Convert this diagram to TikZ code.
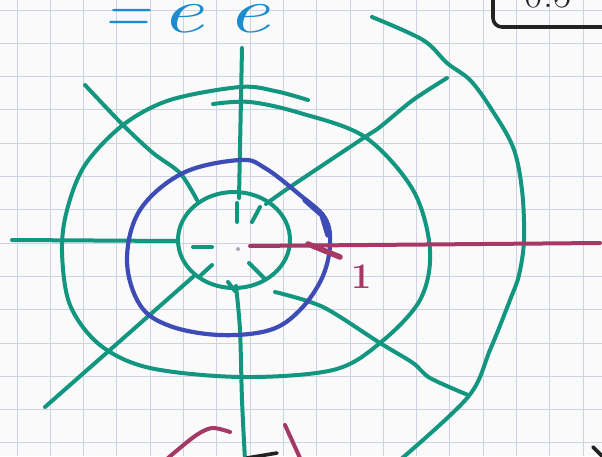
\documentclass[tikz,border=0pt]{standalone}
\usepackage{graphicx}
\usetikzlibrary{positioning}
\definecolor{paper}{RGB}{250,250,251}
\definecolor{gridblue}{RGB}{206,211,226}
\definecolor{penteal}{RGB}{18,150,128}
\definecolor{penblue}{RGB}{62,76,182}
\definecolor{penmag}{RGB}{166,56,102}
\definecolor{pensky}{RGB}{28,140,206}
\definecolor{penink}{RGB}{34,34,34}

\begin{document}
\begin{tikzpicture}[x=1pt,y=-1pt,
  gridline/.style={draw=gridblue,line width=0.9pt},
  tealpen/.style={draw=penteal,line width=4pt,line cap=round,line join=round},
  bluepen/.style={draw=penblue,line width=4.2pt,line cap=round,line join=round},
  magpen/.style={draw=penmag,line width=4pt,line cap=round,line join=round},
  inkpen/.style={draw=penink,line width=3.6pt,line cap=round,line join=round}]
\clip (0,0) rectangle (602,456);
\fill[paper] (0,0) rectangle (602,456);
% squared paper
\foreach \gx in {0,...,17} \draw[gridline] ({17+33.3*\gx},0) -- ++(0,456);
\foreach \gy in {0,...,13} \draw[gridline] (0,{10+33.3*\gy}) -- ++(602,0);

% heading, cut by the top edge
\node[text=pensky,anchor=base west,inner sep=0pt,font=\fontsize{64}{64}\selectfont\itshape] (ee) at (102,32) {=\,\scalebox{1.5}[1]{e}\hspace{0.35em}\scalebox{1.5}[1]{e}};
\draw[inkpen,rounded corners=9pt] (493,-40) rectangle (660,27);
\node[text=penink,anchor=base,inner sep=0pt,font=\fontsize{40}{40}\selectfont] (half) at (548,7) {0.5};

% inner circle and middle ring
\draw[tealpen] (234,240) ellipse (56 and 48);
\draw[tealpen] plot[smooth,tension=0.55] coordinates {(213,104) (250,102) (300,113) (365,137) (413,190) (430,250) (420,300) (380,343) (333,370) (242,377) (150,368) (100,345) (70,305) (62,252) (67,210) (85,165) (123,125) (170,100) (240,87) (275,91) (308,100)};
% outer arc
\draw[tealpen] plot[smooth,tension=0.55] coordinates {(372,17) (423,40) (447,63) (470,80) (490,107) (513,147) (522,190) (524,240) (519,275) (510,300) (490,350) (468,397) (400,460)};

% spokes
\draw[tealpen] (242,48) -- (239,198);
\draw[tealpen] plot[smooth] coordinates {(447,78) (413,100) (380,127) (365,137) (290,187) (266,204)};
\draw[tealpen] plot[smooth] coordinates {(275,292) (323,307) (380,343) (413,363) (430,378) (468,395)};
\draw[tealpen] plot[smooth] coordinates {(236,286) (240,330) (242,400) (245,460)};
\draw[tealpen] (45,407) -- (194,276);
\draw[tealpen] (12,240) -- (178,241);
\draw[tealpen] plot[smooth] coordinates {(85,85) (123,125) (153,153) (180,173) (197,200)};
% ticks inside the inner circle
\draw[tealpen] (237,203) -- (237,222);
\draw[tealpen] (260,207) -- (252,222);
\draw[tealpen] (193,247) -- (212,247);
\draw[tealpen] (212,265) -- (201,275);
\draw[tealpen] (228,282) -- (235,291);
\draw[tealpen] (249,263) -- (264,278);
\fill[gridblue!80!black] (238,249) circle (2);

% blue loop
\draw[bluepen] plot[smooth cycle,tension=0.6] coordinates {(127,260) (140,210) (183,173) (240,160) (265,168) (300,195) (325,218) (330,245) (322,278) (300,310) (270,330) (220,335) (170,326) (140,305)};
\draw[bluepen,line width=5.5pt] (305,200) -- (322,215) -- (328,235);

% magenta ray and mark
\draw[magpen] (250,246) -- (600,243);
\draw[magpen,line width=5.5pt] (308,244) -- (340,257);
\node[text=penmag,inner sep=0pt,font=\fontsize{36}{36}\selectfont\bfseries] (one) at (362,277) {1};

% strokes cut by the bottom edge
\draw[magpen] plot[smooth] coordinates {(168,458) (195,436) (212,428) (230,432)};
\draw[magpen] (285,425) -- (300,458);
\draw[inkpen] (247,458) -- (277,453);
\draw[inkpen] (593,447) -- (604,458);
\end{tikzpicture}
\end{document}
